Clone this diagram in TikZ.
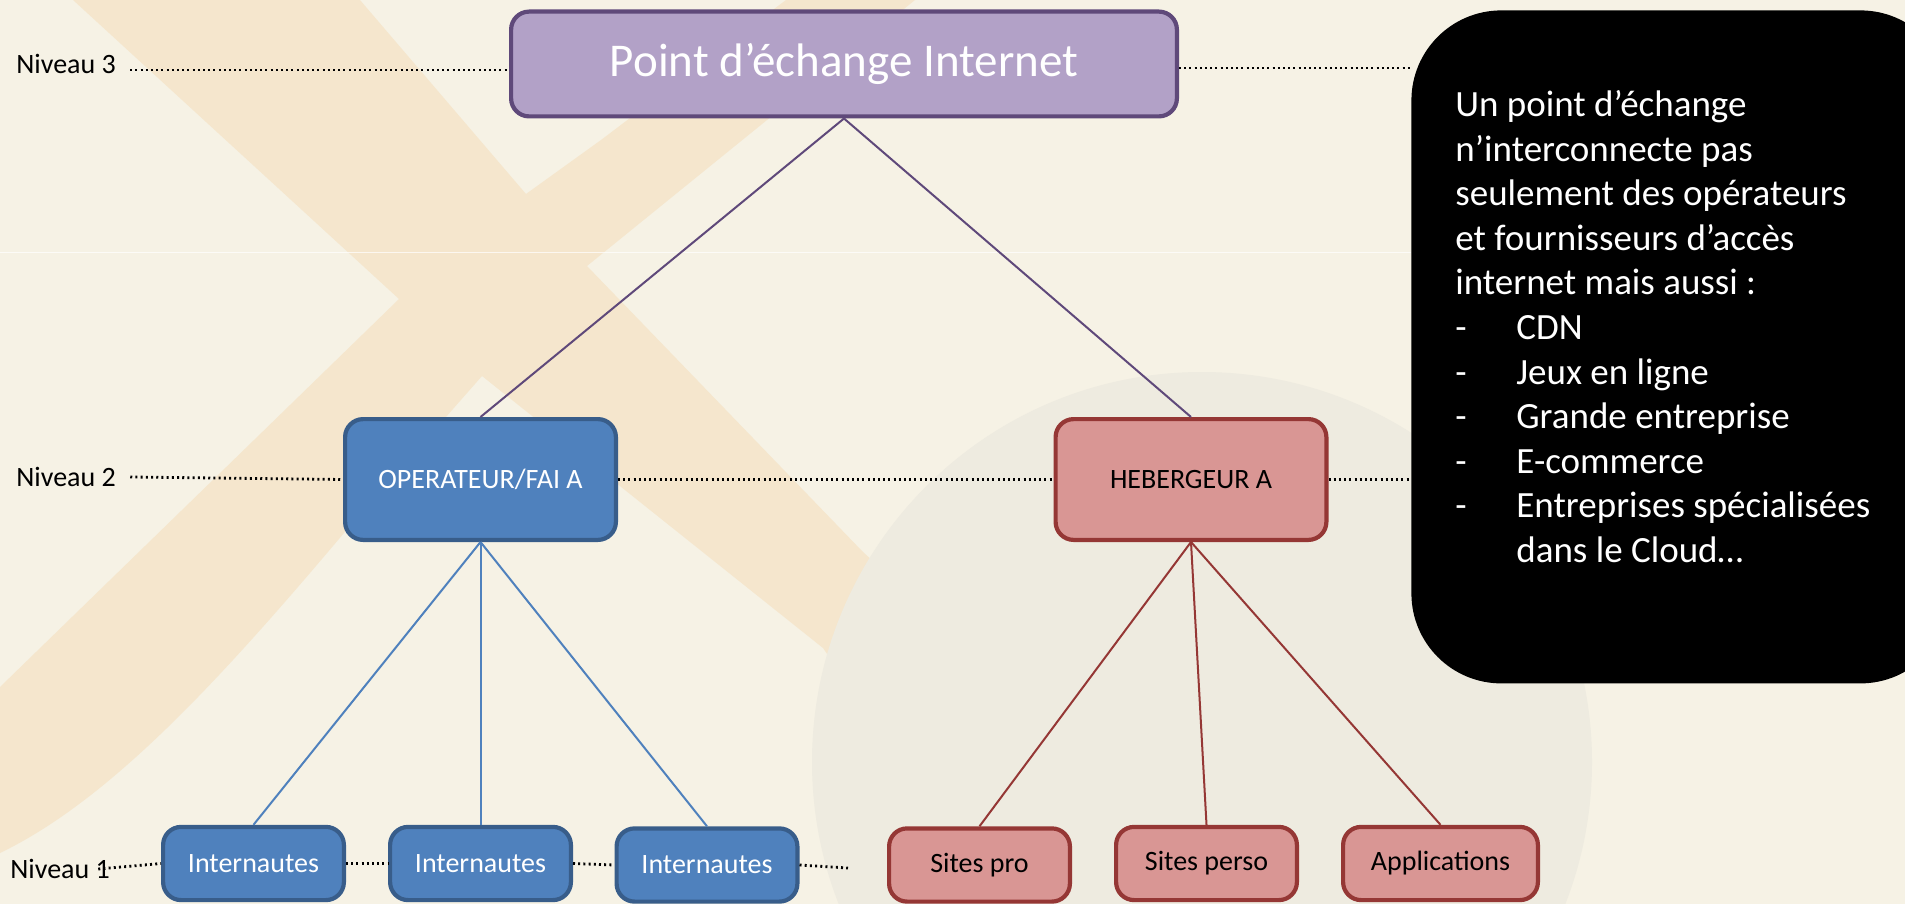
\documentclass[tikz,border=0pt]{standalone}
\usepackage{fontspec}
\setmainfont{Carlito}
\usetikzlibrary{positioning}
\definecolor{fond}{HTML}{F6F2E5}
\definecolor{bande}{HTML}{F5E6CD}
\definecolor{disque}{HTML}{EEEBE0}
\definecolor{violetfond}{HTML}{B2A1C7}
\definecolor{violetbord}{HTML}{5F497A}
\definecolor{bleufond}{HTML}{4F81BD}
\definecolor{bleubord}{HTML}{385D8A}
\definecolor{rougefond}{HTML}{D99694}
\definecolor{rougebord}{HTML}{953735}
\def\tiret{\makebox[30.5pt][l]{-}}

\begin{document}
\begin{tikzpicture}[x=0.5pt,y=-0.5pt,
  every node/.style={align=center,font=\fontsize{14pt}{17pt}\selectfont},
  boite/.style={draw,rounded corners=9pt,line width=2.1pt},
  racine/.style={boite,fill=violetfond,draw=violetbord,text=white,minimum width=332.9pt,minimum height=52.4pt,font=\fontsize{23.5pt}{28pt}\selectfont},
  bleu/.style={boite,fill=bleufond,draw=bleubord,text=white},
  rouge/.style={boite,fill=rougefond,draw=rougebord,text=black},
  milieu/.style={minimum width=135.4pt,minimum height=60.4pt},
  feuille/.style={minimum width=90.4pt,minimum height=36.6pt},
  niv/.style={anchor=west,inner ysep=0pt,inner xsep=7pt},
  pointille/.style={line width=1.4pt,dash pattern=on 1pt off 1.6pt},
  lien/.style={line width=1pt}]

\useasboundingbox (0,0) rectangle (1905,904);
\clip (0,0) rectangle (1905,904);

% fond
\fill[fond] (0,0) rectangle (1905,904);
\fill[bande] (73,0) -- (360,0) -- (526,194) -- (587,266) -- (863,552) -- (960,640)
  -- (900,760) -- (823,648) -- (482,376) -- (399,299) -- cycle;
\fill[bande] (786,0) -- (915,0) -- (587,266) -- (482,376) -- (344,533)
  .. controls (220,680) and (110,800) .. (0,853) -- (0,687) -- (399,299) -- (526,194) -- (601,140) -- cycle;
\draw[white,line width=0.5pt,opacity=0.7] (0,252) -- (1411,252);
\fill[disque] (1202,762) circle (195pt);

% encadre noir
\node[fill=black,rounded corners=45pt,minimum width=269.5pt,minimum height=336.5pt,anchor=north west,inner sep=0pt] (note) at (1411,10) {};
\node[anchor=north west,inner sep=0pt,align=left,text=white,font=\fontsize{18.5pt}{22.3pt}\selectfont] (txt) at (1455,90)
  {Un point d’échange\\n’interconnecte pas\\seulement des opérateurs\\et fournisseurs d’accès\\internet mais aussi :\\
   \tiret CDN\\\tiret Jeux en ligne\\\tiret Grande entreprise\\\tiret E-commerce\\\tiret Entreprises spécialisées\\
   \hspace*{30.5pt}dans le Cloud…};

% niveaux
\node[niv] (niv3) at (2,64) {Niveau 3};
\node[niv] (niv2) at (2,477) {Niveau 2};
\node[niv] (niv1) at (-4,869) {Niveau 1};

% arbre
\node[racine] (pei) at (844,64) {Point d’échange Internet};
\node[bleu,milieu] (ope) at (480.5,479.5) {OPERATEUR/FAI A};
\node[rouge,milieu] (heb) at (1191,479.5) {HEBERGEUR A};

\node[bleu,feuille] (int1) at (253.5,863.5) {Internautes};
\node[bleu,feuille] (int2) at (480.5,863.5) {Internautes};
\node[bleu,feuille] (int3) at (707,865) {Internautes};
\node[rouge,feuille] (pro) at (979.5,865) {Sites pro};
\node[rouge,feuille] (perso) at (1206.5,863.5) {Sites perso};
\node[rouge,feuille,minimum width=97.4pt] (appli) at (1440.5,863.5) {Applications};
\coordinate (fin1) at (848,868);

% liens
\draw[lien,violetbord] (pei.south) -- (ope.north);
\draw[lien,violetbord] (pei.south) -- (heb.north);
\foreach \f in {int1,int2,int3} \draw[lien,bleufond] (ope.south) -- (\f.north);
\foreach \f in {pro,perso,appli} \draw[lien,rougebord] (heb.south) -- (\f.north);

% pointilles
\draw[pointille] ([yshift=-3pt]niv3.east) -- ([yshift=-3pt]pei.west);
\draw[pointille] ([yshift=-2pt]pei.east) -- ([yshift=-2pt]pei.east -| note.west);
\draw[pointille] (niv2.east) -- (ope.west);
\draw[pointille] (ope.east) -- (heb.west);
\draw[pointille] (heb.east) -- (heb.east -| note.west);
\draw[pointille] ([xshift=-13pt]niv1.east) -- (int1.west);
\draw[pointille] (int1.east) -- (int2.west);
\draw[pointille] (int2.east) -- (int3.west);
\draw[pointille] (int3.east) -- (fin1);
\end{tikzpicture}
\end{document}
